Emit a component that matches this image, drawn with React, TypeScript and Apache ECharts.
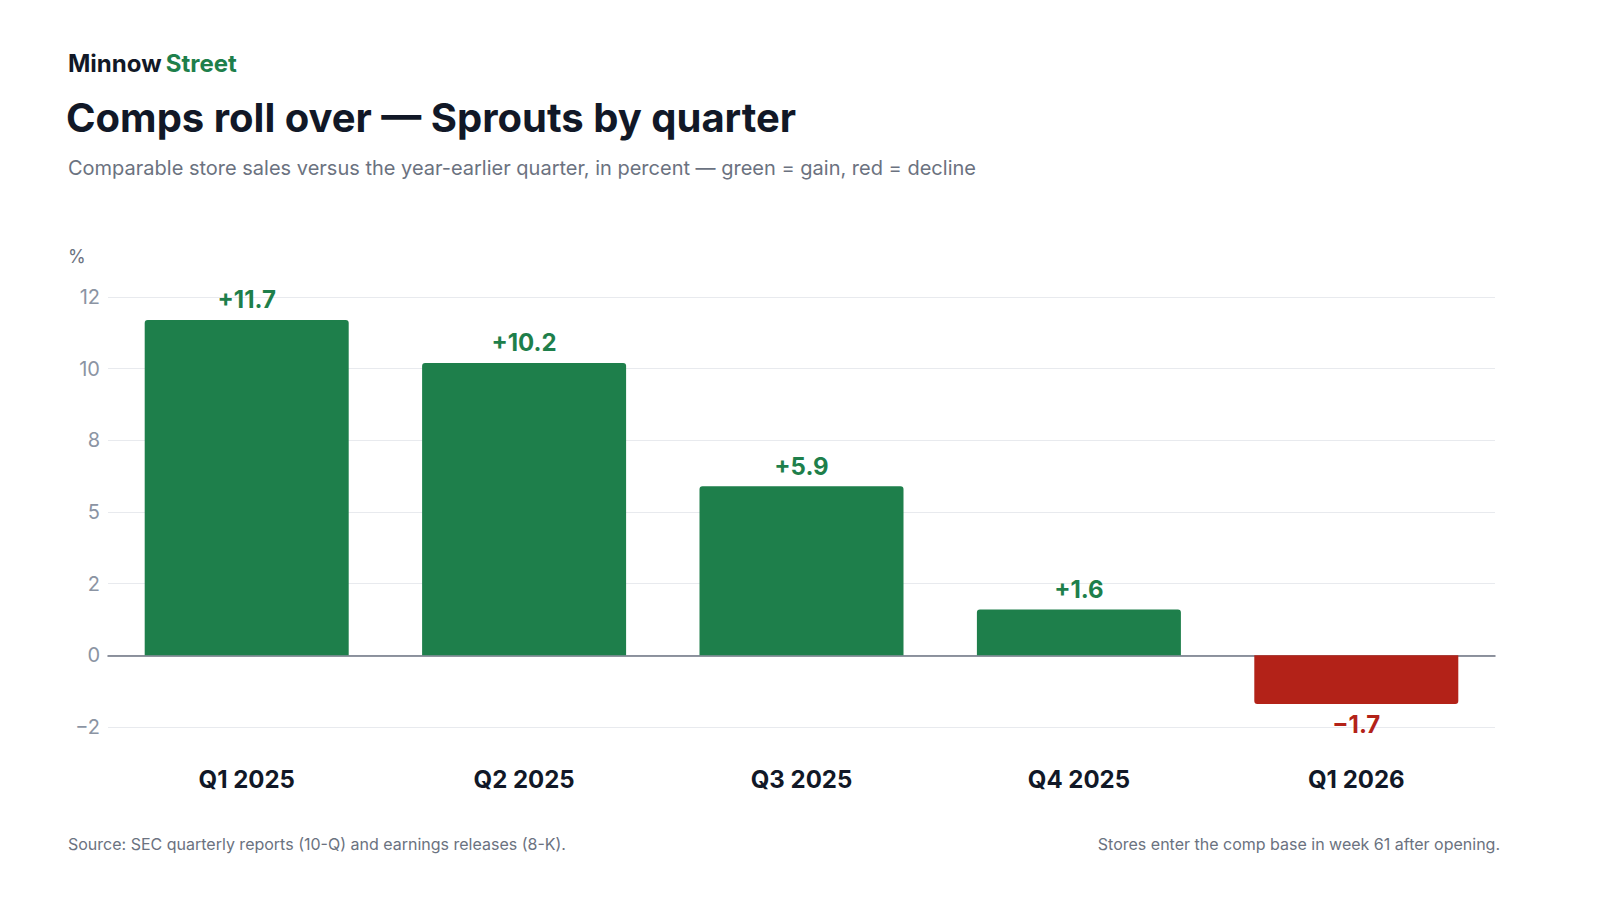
import React, { useEffect, useRef } from "react";
import * as echarts from "echarts";

const quarters = ["Q1 2025", "Q2 2025", "Q3 2025", "Q4 2025", "Q1 2026"];
const comps = [11.7, 10.2, 5.9, 1.6, -1.7];

const GREEN = "#1e7f4b";
const RED = "#b32218";
const FONT = "Inter, 'Noto Sans', sans-serif";

// tick labels at 2.5 steps, rounded half to even
const tickLabel = (v: number) => {
	const f = Math.floor(v);
	let r = v - f === 0.5 ? (f % 2 === 0 ? f : f + 1) : Math.round(v);
	return r < 0 ? "\u2212" + Math.abs(r) : String(r);
};
const valueLabel = (v: number) => (v < 0 ? "\u2212" + Math.abs(v) : "+" + v);

const App: React.FC = () => {
	const chartRef = useRef<HTMLDivElement>(null);

	useEffect(() => {
		if (!chartRef.current) return;
		const chart = echarts.init(chartRef.current, null, { renderer: "svg" });
		const option: echarts.EChartsOption = {
			animation: false,
			backgroundColor: "#ffffff",
			textStyle: { fontFamily: FONT },
			title: [
				{
					text: "{a|Minnow} {b|Street}",
					left: 63,
					top: 46,
					textStyle: {
						rich: {
							a: { fontSize: 24, fontWeight: "bold", color: "#111827", fontFamily: FONT },
							b: { fontSize: 24, fontWeight: "bold", color: GREEN, fontFamily: FONT },
						},
					},
				},
				{
					text: "Comps roll over \u2014 Sprouts by quarter",
					left: 61,
					top: 92,
					textStyle: { fontSize: 40, fontWeight: "bold", color: "#111827", fontFamily: FONT, letterSpacing: -1 } as any,
				},
				{
					text: "Comparable store sales versus the year-earlier quarter, in percent \u2014 green = gain, red = decline",
					left: 63,
					top: 153,
					textStyle: { fontSize: 20, fontWeight: "normal", color: "#6b7280", fontFamily: FONT },
				},
				{
					text: "%",
					left: 63,
					top: 242,
					textStyle: { fontSize: 18, fontWeight: "normal", color: "#6b7280", fontFamily: FONT },
				},
				{
					text: "Source: SEC quarterly reports (10-Q) and earnings releases (8-K).",
					left: 63,
					top: 831,
					textStyle: { fontSize: 16, fontWeight: "normal", color: "#6b7280", fontFamily: FONT },
				},
				{
					text: "Stores enter the comp base in week 61 after opening.",
					right: 95,
					top: 831,
					textStyle: { fontSize: 16, fontWeight: "normal", color: "#6b7280", fontFamily: FONT },
				},
			],
			grid: { left: 108, right: 105, top: 297, bottom: 173 },
			xAxis: {
				type: "category",
				data: quarters,
				axisLine: { onZero: true, lineStyle: { color: "#6b7280", width: 1.5 } },
				axisTick: { show: false },
				axisLabel: {
					position: "bottom",
					margin: 40,
					fontSize: 24,
					fontWeight: "bold",
					color: "#111827",
					fontFamily: FONT,
				} as any,
			},
			yAxis: {
				type: "value",
				min: -2.5,
				max: 12.5,
				interval: 2.5,
				axisLine: { show: false },
				axisTick: { show: false },
				splitLine: { lineStyle: { color: "#e8eaee", width: 1 } },
				axisLabel: {
					formatter: (v: number) => tickLabel(v),
					fontSize: 20,
					color: "#8b94a3",
					margin: 8,
					fontFamily: FONT,
				},
			},
			series: [
				{
					type: "bar",
					barWidth: 204,
					data: comps.map((v) => ({
						value: v,
						itemStyle: { color: v < 0 ? RED : GREEN, borderRadius: v < 0 ? [0, 0, 3, 3] : [3, 3, 0, 0] },
						label: {
							show: true,
							position: v < 0 ? "bottom" : "top",
							distance: 8,
							formatter: () => valueLabel(v),
							fontSize: 24,
							fontWeight: "bold",
							color: v < 0 ? RED : GREEN,
							fontFamily: FONT,
						},
					})),
				},
			],
		};
		chart.setOption(option);
		return () => chart.dispose();
	}, []);

	return (
		<div
			ref={chartRef}
			style={{ position: "fixed", left: 0, top: 0, width: "1600px", height: "900px" }}
		/>
	);
};

export default App;
